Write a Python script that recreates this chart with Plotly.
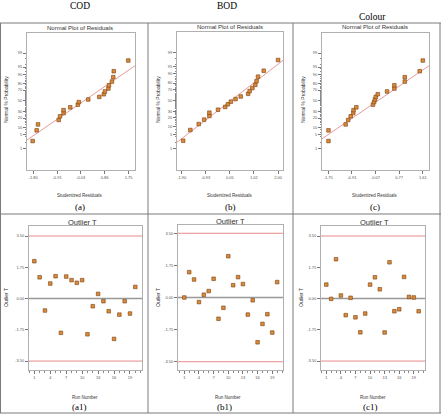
import plotly.graph_objects as go
from statistics import NormalDist

W, H = 441, 416

# ---------------- data ----------------
prob_pct = [2.5, 7.5, 12.5, 17.5, 22.5, 27.5, 32.5, 37.5, 42.5, 47.5,
            52.5, 57.5, 62.5, 67.5, 72.5, 77.5, 82.5, 87.5, 92.5, 97.5]

cod_resid = [-1.82, -1.67, -1.62, -0.85, -0.80, -0.67, -0.67, -0.42, -0.14, -0.10,
             0.25, 0.66, 0.83, 0.87, 1.00, 1.02, 1.13, 1.18, 1.20, 1.74]
bod_resid = [-1.84, -1.55, -1.21, -0.99, -0.78, -0.78, -0.43, -0.14, -0.03, 0.09,
             0.28, 0.49, 0.79, 0.85, 0.96, 1.08, 1.13, 1.19, 1.42, 2.00]
colour_resid = [-1.74, -1.74, -1.13, -1.04, -0.95, -0.86, -0.85, -0.75, -0.16, -0.12,
                -0.09, -0.06, 0.01, 0.34, 0.60, 0.60, 0.97, 0.97, 1.50, 1.61]

cod_fit_x, cod_fit_pct = [-2.03, 1.99], [2.8, 95.6]
bod_fit_x, bod_fit_pct = [-2.09, 2.20], [2.1, 97.4]
colour_fit_x, colour_fit_pct = [-1.97, 1.83], [3.2, 95.6]

cod_xticks = [-1.80, -0.91, -0.03, 0.86, 1.75]
bod_xticks = [-1.90, -0.93, 0.05, 1.02, 2.00]
colour_xticks = [-1.75, -0.91, -0.07, 0.77, 1.61]

prob_ticks = [1, 5, 10, 20, 30, 50, 70, 80, 90, 95, 99]

runs = list(range(1, 21))
cod_outlier = [2.09, 1.19, -0.67, 0.84, 1.25, -1.92, 1.23, 1.03, 0.88, 1.03,
               -2.00, -0.43, 0.26, -0.15, -0.71, -2.26, -0.90, -0.15, -0.84, 0.65]
bod_outlier = [0.00, 1.38, 0.98, -0.25, 0.15, 0.35, 1.02, -1.16, -0.56, 2.25,
               0.67, 1.11, 0.73, -0.93, -0.15, -2.44, -1.44, -0.91, -1.91, 0.84]
colour_outlier = [0.78, -0.02, 2.20, 0.17, -0.93, 0.04, -1.05, -1.89, -0.84, 0.78,
                  1.19, 0.52, -1.90, 2.03, -0.71, -0.60, 1.21, 0.09, 0.06, -0.71]
outlier_ticks = [-3.50, -1.75, 0.00, 1.75, 3.50]
outlier_limit = 3.50
run_ticks = [1, 4, 7, 10, 13, 16, 19]

headers = ["COD", "BOD", "Colour"]
captions = ["(a)", "(b)", "(c)", "(a1)", "(b1)", "(c1)"]

# ---------------- helpers ----------------
nd = NormalDist()
def z(p):
    return nd.inv_cdf(p / 100.0)

def fx(px):
    return px / W

def fy(py):
    return 1 - py / H

NARROW = "Liberation Sans Narrow, Arial Narrow, Liberation Sans, sans-serif"
SERIF = "Liberation Serif, Times New Roman, serif"
MK = dict(symbol="square", size=3.6, color="#d98a3a", line=dict(color="#7a4210", width=0.6))
BOX = "#b0b0b0"

fig = go.Figure()

boxes = [(27, 33, 135, 170), (177, 32, 283, 170), (322, 33, 429, 170),
         (29, 226, 142, 370), (178, 225, 283, 370), (321, 226, 425, 370)]
xranges = [[-2.03, 1.99], [-2.09, 2.20], [-1.97, 1.83],
           [0.0, 21.26], [-0.29, 21.2], [-0.09, 21.3]]
yranges = [[-3.37, 3.30], [-3.38, 3.32], [-3.37, 3.30],
           [-4.0, 4.06], [-3.95, 3.95], [-4.0, 4.06]]

resids = [cod_resid, bod_resid, colour_resid]
fits = [(cod_fit_x, cod_fit_pct), (bod_fit_x, bod_fit_pct), (colour_fit_x, colour_fit_pct)]
xticks_n = [cod_xticks, bod_xticks, colour_xticks]
outliers = [cod_outlier, bod_outlier, colour_outlier]

minor_pct = [p for p in range(2, 99, 2) if p not in prob_ticks]

layout = dict(width=W, height=H, margin=dict(l=0, r=0, t=0, b=0),
              paper_bgcolor="white", plot_bgcolor="white", showlegend=False)

for i in range(6):
    n = i + 1
    xa = "xaxis" if n == 1 else f"xaxis{n}"
    ya = "yaxis" if n == 1 else f"yaxis{n}"
    xr = "x" if n == 1 else f"x{n}"
    yr = "y" if n == 1 else f"y{n}"
    l, t, r, b = boxes[i]
    common = dict(showline=True, mirror=True, linecolor=BOX, linewidth=1,
                  ticks="outside", ticklen=3, tickcolor="#777", tickwidth=0.7,
                  tickfont=dict(size=4, family=NARROW, color="#555"),
                  showgrid=False, zeroline=False)
    if i < 3:
        fx_ticks = xticks_n[i]
        layout[xa] = dict(common, domain=[fx(l), fx(r)], range=xranges[i], anchor=yr,
                          tickvals=fx_ticks, ticktext=[f"{v:.2f}" for v in fx_ticks])
        layout[ya] = dict(common, domain=[fy(b), fy(t)], range=yranges[i], anchor=xr,
                          tickvals=[z(p) for p in prob_ticks],
                          ticktext=[str(p) for p in prob_ticks],
                          minor=dict(tickmode="array", tickvals=[z(p) for p in minor_pct],
                                     ticks="outside", ticklen=1.5, tickcolor="#888", tickwidth=0.5))
        fxv, fpv = fits[i]
        fig.add_trace(go.Scatter(x=fxv, y=[z(p) for p in fpv], mode="lines",
                                 line=dict(color="#e89a9a", width=1), xaxis=xr, yaxis=yr,
                                 hoverinfo="skip"))
        fig.add_trace(go.Scatter(x=resids[i], y=[z(p) for p in prob_pct], mode="markers",
                                 marker=MK, xaxis=xr, yaxis=yr))
    else:
        j = i - 3
        layout[xa] = dict(common, domain=[fx(l), fx(r)], range=xranges[i], anchor=yr,
                          tickvals=run_ticks, ticktext=[str(v) for v in run_ticks],
                          minor=dict(dtick=1, tick0=1, ticks="outside", ticklen=1.5,
                                     tickcolor="#888", tickwidth=0.5))
        layout[ya] = dict(common, domain=[fy(b), fy(t)], range=yranges[i], anchor=xr,
                          tickvals=outlier_ticks, ticktext=[f"{v:.2f}" for v in outlier_ticks])
        fig.add_trace(go.Scatter(x=runs, y=outliers[j], mode="markers",
                                 marker=MK, xaxis=xr, yaxis=yr))

fig.update_layout(**layout)

shapes = []
for i in range(3, 6):
    n = i + 1
    for yv, col, wd in [(outlier_limit, "#e88a8a", 1), (-outlier_limit, "#e88a8a", 1), (0, "#999999", 1.5)]:
        shapes.append(dict(type="line", xref=f"x{n} domain", yref=f"y{n}", x0=0, x1=1,
                           y0=yv, y1=yv, line=dict(color=col, width=wd), layer="below"))

TL = dict(color="#7a7a7a", width=1)
for py in [23, 214, 413]:
    shapes.append(dict(type="line", xref="paper", yref="paper", x0=fx(0), x1=fx(441),
                       y0=fy(py), y1=fy(py), line=TL))
for px in [0.5, 148, 293, 440]:
    shapes.append(dict(type="line", xref="paper", yref="paper", x0=fx(px), x1=fx(px),
                       y0=fy(23), y1=fy(413), line=TL))
fig.update_layout(shapes=shapes)

ann = []
def text(s, px, py, size, family, angle=0, color="#000000"):
    ann.append(dict(text=s, x=fx(px), y=fy(py), xref="paper", yref="paper",
                    showarrow=False, xanchor="center", yanchor="middle", textangle=angle,
                    font=dict(size=size, family=family, color=color)))

text(headers[0], 80, 6, 9.5, SERIF)
text(headers[1], 227, 6, 9.5, SERIF)
text(headers[2], 372, 17, 9.5, SERIF)

for cx, cy in [(80, 28), (230, 27), (375, 27)]:
    text("Normal Plot of Residuals", cx, cy, 6, NARROW, color="#333333")
for cx, cy in [(82, 222), (230, 221), (374, 222)]:
    text("Outlier T", cx, cy, 7.5, NARROW, color="#333333")

for cx in [80, 230, 375]:
    text("Studentized Residuals", cx, 195, 4.5, NARROW, color="#333333")
for cx in [6, 158, 303]:
    text("Normal % Probability", cx, 100, 5, NARROW, angle=-90, color="#333333")
for cx in [85, 228, 373]:
    text("Run Number", cx, 397, 4.5, NARROW, color="#333333")
for cx in [6, 158, 301]:
    text("Outlier T", cx, 298, 5, NARROW, angle=-90, color="#333333")

for s, cx, cy in zip(captions, [80, 230, 375, 79, 224, 370], [207, 207, 207, 407, 407, 407]):
    text(s, cx, cy, 9, SERIF)

fig.update_layout(annotations=ann)
fig.write_html("out.html")
